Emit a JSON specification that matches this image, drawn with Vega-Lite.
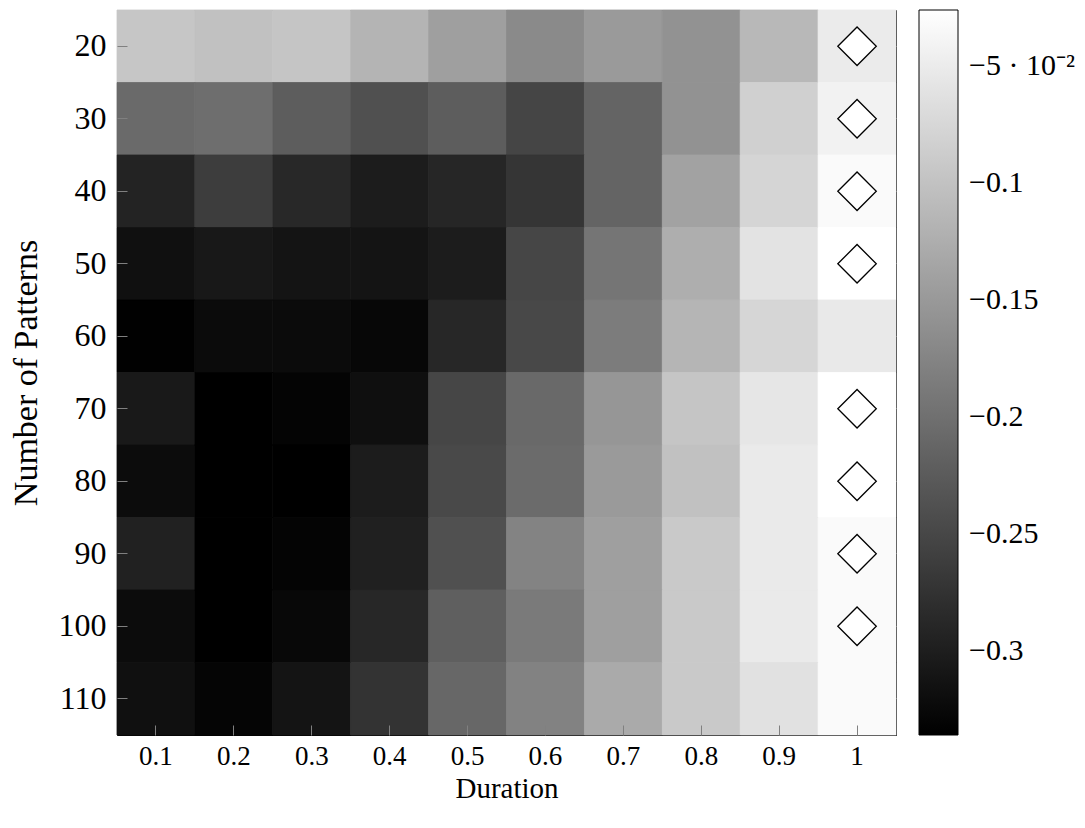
{
  "$schema": "https://vega.github.io/schema/vega-lite/v6.json",
  "width": 779,
  "height": 725,
  "autosize": {"type": "none"},
  "padding": {"left": 117, "top": 10, "right": 189, "bottom": 93},
  "background": "white",
  "config": {
    "view": {"stroke": "black", "strokeWidth": 1},
    "font": "Liberation Serif",
    "legend": {"gradientVerticalMaxLength": 800, "gradientVerticalMinLength": 100}
  },
  "data": {
    "values": [
      {"d": 0.1, "n": 20, "v": -0.0955}, {"d": 0.2, "n": 20, "v": -0.1015}, {"d": 0.3, "n": 20, "v": -0.0967}, {"d": 0.4, "n": 20, "v": -0.1173}, {"d": 0.5, "n": 20, "v": -0.1428}, {"d": 0.6, "n": 20, "v": -0.1683}, {"d": 0.7, "n": 20, "v": -0.1489}, {"d": 0.8, "n": 20, "v": -0.1586}, {"d": 0.9, "n": 20, "v": -0.1125}, {"d": 1, "n": 20, "v": -0.0505, "m": 1},
      {"d": 0.1, "n": 30, "v": -0.2072}, {"d": 0.2, "n": 30, "v": -0.2024}, {"d": 0.3, "n": 30, "v": -0.2230}, {"d": 0.4, "n": 30, "v": -0.2388}, {"d": 0.5, "n": 30, "v": -0.2230}, {"d": 0.6, "n": 30, "v": -0.2522}, {"d": 0.7, "n": 30, "v": -0.2145}, {"d": 0.8, "n": 30, "v": -0.1586}, {"d": 0.9, "n": 30, "v": -0.0833}, {"d": 1, "n": 30, "v": -0.0420, "m": 1},
      {"d": 0.1, "n": 40, "v": -0.2935}, {"d": 0.2, "n": 40, "v": -0.2619}, {"d": 0.3, "n": 40, "v": -0.2874}, {"d": 0.4, "n": 40, "v": -0.3020}, {"d": 0.5, "n": 40, "v": -0.2898}, {"d": 0.6, "n": 40, "v": -0.2716}, {"d": 0.7, "n": 40, "v": -0.2145}, {"d": 0.8, "n": 40, "v": -0.1392}, {"d": 0.9, "n": 40, "v": -0.0772}, {"d": 1, "n": 40, "v": -0.0321, "m": 1},
      {"d": 0.1, "n": 50, "v": -0.3166}, {"d": 0.2, "n": 50, "v": -0.3068}, {"d": 0.3, "n": 50, "v": -0.3117}, {"d": 0.4, "n": 50, "v": -0.3117}, {"d": 0.5, "n": 50, "v": -0.3020}, {"d": 0.6, "n": 50, "v": -0.2510}, {"d": 0.7, "n": 50, "v": -0.1939}, {"d": 0.8, "n": 50, "v": -0.1246}, {"d": 0.9, "n": 50, "v": -0.0602}, {"d": 1, "n": 50, "v": -0.0262, "m": 1},
      {"d": 0.1, "n": 60, "v": -0.3348}, {"d": 0.2, "n": 60, "v": -0.3226}, {"d": 0.3, "n": 60, "v": -0.3226}, {"d": 0.4, "n": 60, "v": -0.3275}, {"d": 0.5, "n": 60, "v": -0.2886}, {"d": 0.6, "n": 60, "v": -0.2485}, {"d": 0.7, "n": 60, "v": -0.1854}, {"d": 0.8, "n": 60, "v": -0.1161}, {"d": 0.9, "n": 60, "v": -0.0760}, {"d": 1, "n": 60, "v": -0.0529},
      {"d": 0.1, "n": 70, "v": -0.3056}, {"d": 0.2, "n": 70, "v": -0.3360}, {"d": 0.3, "n": 70, "v": -0.3311}, {"d": 0.4, "n": 70, "v": -0.3178}, {"d": 0.5, "n": 70, "v": -0.2510}, {"d": 0.6, "n": 70, "v": -0.2084}, {"d": 0.7, "n": 70, "v": -0.1538}, {"d": 0.8, "n": 70, "v": -0.0967}, {"d": 0.9, "n": 70, "v": -0.0566}, {"d": 1, "n": 70, "v": -0.0262, "m": 1},
      {"d": 0.1, "n": 80, "v": -0.3214}, {"d": 0.2, "n": 80, "v": -0.3360}, {"d": 0.3, "n": 80, "v": -0.3360}, {"d": 0.4, "n": 80, "v": -0.3020}, {"d": 0.5, "n": 80, "v": -0.2473}, {"d": 0.6, "n": 80, "v": -0.2060}, {"d": 0.7, "n": 80, "v": -0.1489}, {"d": 0.8, "n": 80, "v": -0.1015}, {"d": 0.9, "n": 80, "v": -0.0517}, {"d": 1, "n": 80, "v": -0.0262, "m": 1},
      {"d": 0.1, "n": 90, "v": -0.2959}, {"d": 0.2, "n": 90, "v": -0.3360}, {"d": 0.3, "n": 90, "v": -0.3311}, {"d": 0.4, "n": 90, "v": -0.2971}, {"d": 0.5, "n": 90, "v": -0.2388}, {"d": 0.6, "n": 90, "v": -0.1769}, {"d": 0.7, "n": 90, "v": -0.1428}, {"d": 0.8, "n": 90, "v": -0.0918}, {"d": 0.9, "n": 90, "v": -0.0517}, {"d": 1, "n": 90, "v": -0.0321, "m": 1},
      {"d": 0.1, "n": 100, "v": -0.3214}, {"d": 0.2, "n": 100, "v": -0.3360}, {"d": 0.3, "n": 100, "v": -0.3263}, {"d": 0.4, "n": 100, "v": -0.2886}, {"d": 0.5, "n": 100, "v": -0.2206}, {"d": 0.6, "n": 100, "v": -0.1878}, {"d": 0.7, "n": 100, "v": -0.1428}, {"d": 0.8, "n": 100, "v": -0.0918}, {"d": 0.9, "n": 100, "v": -0.0517}, {"d": 1, "n": 100, "v": -0.0321, "m": 1},
      {"d": 0.1, "n": 110, "v": -0.3166}, {"d": 0.2, "n": 110, "v": -0.3299}, {"d": 0.3, "n": 110, "v": -0.3117}, {"d": 0.4, "n": 110, "v": -0.2740}, {"d": 0.5, "n": 110, "v": -0.2109}, {"d": 0.6, "n": 110, "v": -0.1781}, {"d": 0.7, "n": 110, "v": -0.1295}, {"d": 0.8, "n": 110, "v": -0.0918}, {"d": 0.9, "n": 110, "v": -0.0627}, {"d": 1, "n": 110, "v": -0.0321}
    ]
  },
  "layer": [
    {
      "mark": {"type": "rect", "stroke": {"expr": "scale('color', datum.v)"}, "strokeWidth": 0.8},
      "encoding": {
        "x": {
          "field": "d", "type": "ordinal",
          "scale": {"paddingInner": 0, "paddingOuter": 0},
          "axis": {
            "orient": "bottom", "title": "Duration", "labelAngle": 0,
            "tickSize": -10, "tickColor": "#808080", "tickWidth": 1,
            "labelPadding": 18, "domain": false, "grid": false,
            "labelFont": "Liberation Serif", "labelFontSize": 27, "labelColor": "black",
            "titleFont": "Liberation Serif", "titleFontSize": 29, "titleFontWeight": "normal", "titleColor": "black",
            "titleY": 62, "titleBaseline": "alphabetic"
          }
        },
        "y": {
          "field": "n", "type": "ordinal",
          "scale": {"paddingInner": 0, "paddingOuter": 0},
          "axis": {
            "orient": "left", "title": "Number of Patterns",
            "tickSize": -10, "tickColor": "#808080", "tickWidth": 1,
            "labelPadding": 21, "domain": false, "grid": false,
            "labelFont": "Liberation Serif", "labelFontSize": 32, "labelColor": "black", "labelBaseline": "middle",
            "titleFont": "Liberation Serif", "titleFontSize": 34, "titleFontWeight": "normal", "titleColor": "black",
            "titleAngle": -90, "titleX": -81, "titleY": 362.5, "titleAlign": "center", "titleBaseline": "alphabetic"
          }
        },
        "color": {
          "field": "v", "type": "quantitative",
          "scale": {"domain": [-0.336, -0.0262], "range": ["#000000", "#ffffff"], "interpolate": "rgb"},
          "legend": {
            "orient": "none", "legendX": 802, "legendY": 0, "direction": "vertical",
            "title": null, "gradientLength": 725, "gradientThickness": 39,
            "gradientStrokeColor": "black", "gradientStrokeWidth": 1,
            "values": [-0.3, -0.25, -0.2, -0.15, -0.1, -0.05],
            "labelExpr": "datum.value > -0.07 ? '−5 · 10⁻²' : '−' + format(-datum.value, '.2~f')",
            "labelFont": "Liberation Serif", "labelFontSize": 30, "labelColor": "black",
            "labelOffset": 11, "labelOverlap": false, "padding": 0
          }
        }
      }
    },
    {
      "transform": [{"filter": "datum.m === 1"}],
      "mark": {"type": "point", "shape": "diamond", "filled": false, "fill": "white", "fillOpacity": 1, "stroke": "black", "strokeWidth": 1.3, "opacity": 1, "size": 1480},
      "encoding": {
        "x": {
          "field": "d", "type": "ordinal",
          "axis": {"orient": "top", "labels": false, "title": null, "tickSize": -10, "tickColor": "#808080", "tickWidth": 1, "domain": false, "grid": false}
        },
        "y": {
          "field": "n", "type": "ordinal",
          "axis": {"orient": "right", "labels": false, "title": null, "tickSize": -10, "tickColor": "#808080", "tickWidth": 1, "domain": false, "grid": false}
        }
      }
    }
  ],
  "resolve": {"axis": {"x": "independent", "y": "independent"}}
}
